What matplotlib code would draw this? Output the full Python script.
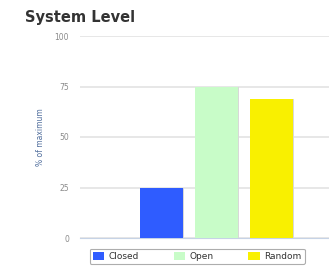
import numpy as np
import matplotlib
matplotlib.use("Agg")
import matplotlib.pyplot as plt

# data
categories = ["Closed", "Open", "Random"]
values = [25, 75, 69]
colors = ["#2f5cff", "#c8fcc8", "#f9f000"]
yticks = [0, 25, 50, 75, 100]

fig = plt.figure(figsize=(3.29, 2.67), dpi=100)
ax = fig.add_axes([80 / 329, 1 - 238 / 267, 1 - 80 / 329, 202 / 267])

x = np.arange(len(categories))
# soft shadow behind bars
ax.bar(x + 0.02, values, width=0.8, color="#d8d8d8", zorder=2)
bars = ax.bar(x, values, width=0.78, color=colors, label=categories, zorder=3)

ax.set_xlim(-1.48, 3.05)
ax.set_ylim(0, 100)
ax.set_yticks(yticks)
ax.set_xticks([])
ax.grid(axis="y", color="#e3e3e3", linewidth=1.2, zorder=0)
for s in ["top", "right", "left"]:
    ax.spines[s].set_visible(False)
ax.spines["bottom"].set_color("#c6d3e6")
ax.tick_params(axis="y", length=0, labelsize=5.5, labelcolor="#8a8a8a", pad=8)
ax.set_ylabel("% of maximum", fontsize=5.5, color="#4f6d9c", labelpad=7)

fig.text(25 / 329, 1 - 18 / 267, "System Level", fontsize=10.5,
         fontweight="bold", color="#333333", va="center")

leg = ax.legend(handles=bars, labels=categories, loc="upper left",
                bbox_to_anchor=(5 / 249, -0.03), ncol=3, fontsize=6.5,
                frameon=True, handlelength=1.3, handleheight=1.1,
                columnspacing=3.8, handletextpad=0.5, borderpad=0.35,
                fancybox=True)
leg.get_frame().set_edgecolor("#999999")
leg.get_frame().set_linewidth(0.8)
for t in leg.get_texts():
    t.set_color("#333333")

fig.savefig("out.png", dpi=100)
